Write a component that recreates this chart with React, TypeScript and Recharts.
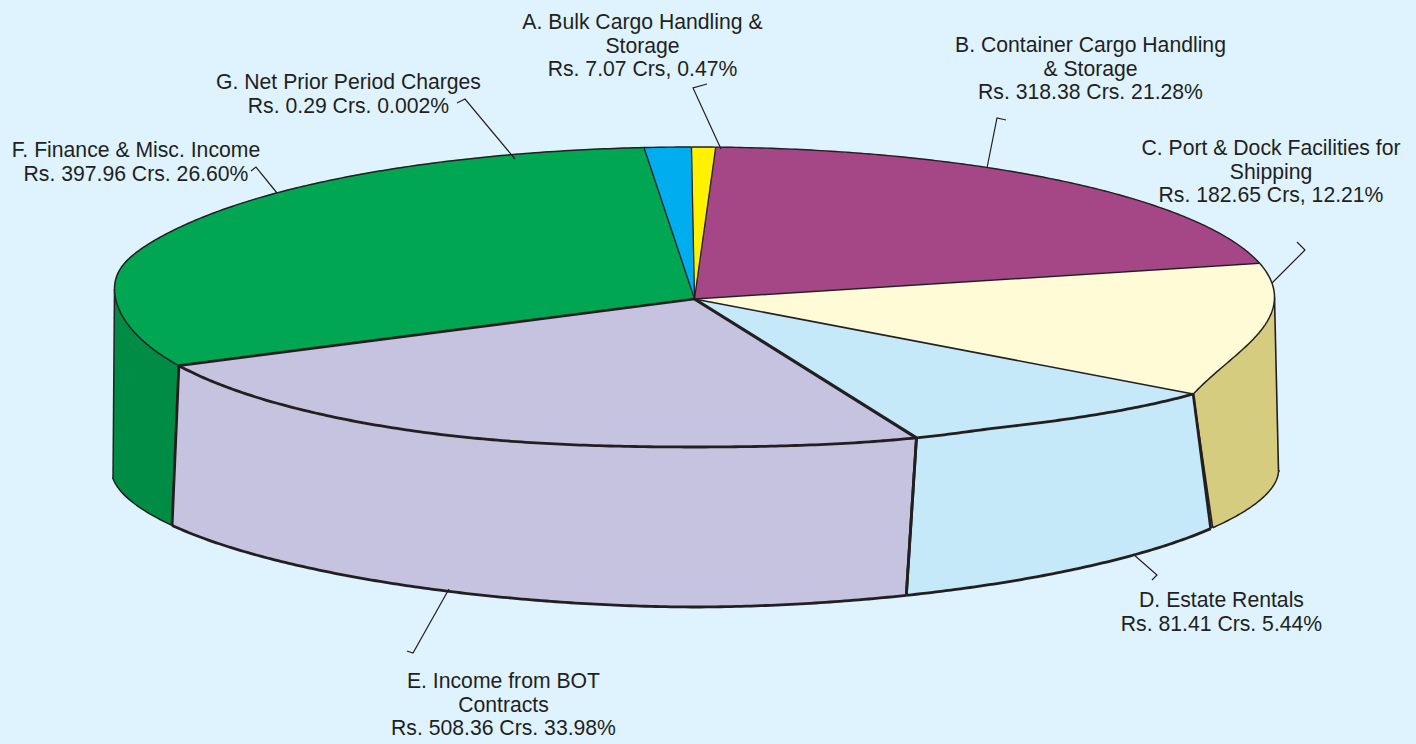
import React from "react";
import { PieChart, Pie } from "recharts";

// Slice names and the figures printed on the chart
const sliceNames = ["A", "B", "C", "D", "E", "F", "G"];
const labelTexts = [
  ["A. Bulk Cargo Handling &", "Storage", "Rs. 7.07 Crs, 0.47%"],
  ["B. Container Cargo Handling", "& Storage", "Rs. 318.38 Crs. 21.28%"],
  ["C. Port & Dock Facilities for", "Shipping", "Rs. 182.65 Crs, 12.21%"],
  ["D. Estate Rentals", "Rs. 81.41 Crs. 5.44%"],
  ["E. Income from BOT", "Contracts", "Rs. 508.36 Crs. 33.98%"],
  ["F. Finance & Misc. Income", "Rs. 397.96 Crs. 26.60%"],
  ["G. Net Prior Period Charges", "Rs. 0.29 Crs. 0.002%"],
];
// Sweep of each slice as drawn in the picture, in degrees of the ellipse
const drawnSweep = [2.4, 74.9, 43.7, 36.8, 85.25, 112.25, 4.7];

const pieData = sliceNames.map((name, i) => ({ name, sweep: drawnSweep[i] }));

// Styles
const BG = "#DEF3FD";
const INK = "#231F20";
const faceFill = ["#FFF200", "#A54686", "#FFFBD6", "#C6E9FA", "#C6C3E1", "#00A651", "#00AEEF"];
const wallFill = ["#FFF200", "#A54686", "#D6CC80", "#C6E9FA", "#C6C3E1", "#008C44", "#00AEEF"];
const arcWidth = [1.4, 1.4, 1.5, 2.8, 2.8, 1.5, 1.4];
const startEdgeWidth = [1.3, 1.3, 1.5, 1.6, 3.2, 2.6, 1.3];
const wallArcWidth = [1, 1, 1.5, 2.8, 2.8, 1.5, 1];
const wallEdgeWidth = [0, 0, 1.6, 2.8, 2.8, 1.5, 0];

// Geometry of the tilted disc
const CX = 694.5, CY = 297, RX = 580, RY = 150, HUB_Y = 299;
const BCX = 695, BCY = 471, BRX = 583.5, BRY = 136, BN = 1.85;
const wallLeanStart = [0, 0, 0, 14, -12, -4.2, 0];
const wallLeanEnd = [0, 0, 16, -12, -4.2, 1.5, 0];

const rad = (d: number) => (d * Math.PI) / 180;

function bump(th: number) {
  const d = th - 120.7;
  let out = 0;
  if (d <= 0) out += 20 * Math.exp(d / 6.5);
  else if (d < 30) out += 20 * Math.pow(1 - d / 30, 1.3);
  out += 3 * (1 - Math.exp(-(((th - 180) / 18) ** 2))) * Math.exp(-(((th - 185) / 55) ** 4));
  const l = th - 272;
  out -= 8 * Math.exp(-((l / (l < 0 ? 20 : 16)) ** 2));
  return out;
}
function topPoint(th: number): [number, number] {
  return [CX + RX * Math.sin(rad(th)), CY - RY * Math.cos(rad(th)) + bump(th)];
}
function bottomPoint(th: number, lean: number): [number, number] {
  const x = BCX + BRX * Math.sin(rad(th)) + lean;
  const dx = Math.min(1, Math.abs(x - BCX) / BRX);
  const y = BCY + BRY * Math.pow(1 - Math.pow(dx, BN), 1 / BN);
  return [x, y];
}
function arcPoints(a: number, b: number, f: (th: number, t: number) => [number, number]) {
  const n = Math.max(2, Math.ceil(Math.abs(b - a) * 2));
  const out: [number, number][] = [];
  for (let i = 0; i <= n; i++) out.push(f(a + ((b - a) * i) / n, i / n));
  return out;
}
const toPath = (pts: [number, number][]) =>
  pts.map((p, i) => `${i ? "L" : "M"}${p[0].toFixed(2)} ${p[1].toFixed(2)}`).join(" ");

type Layer = "wallFill" | "wallLine" | "faceFill" | "faceLine";

function makeShape(layer: Layer) {
  return function SliceShape(props: any) {
    const i = sliceNames.indexOf(props.name ?? props.payload?.name);
    const a = 90 - props.startAngle;
    const b = 90 - props.endAngle;
    if (layer === "faceFill" || layer === "faceLine") {
      const arc = arcPoints(a, b, (th) => topPoint(th));
      if (layer === "faceFill") {
        return <path d={`M${CX} ${HUB_Y} ${toPath(arc).replace("M", "L")} Z`} fill={faceFill[i]} stroke={faceFill[i]} strokeWidth={0.5} />;
      }
      return (
        <g fill="none" stroke={INK} strokeLinejoin="round">
          <path d={toPath(arc)} strokeWidth={arcWidth[i]} />
          <path d={`M${CX} ${HUB_Y} L${arc[0][0]} ${arc[0][1]}`} strokeWidth={startEdgeWidth[i]} />
        </g>
      );
    }
    const lo = Math.max(a, 90);
    const hi = Math.min(b, 270);
    if (hi <= lo) return null;
    const top = arcPoints(lo, hi, (th) => topPoint(th));
    const bottom = arcPoints(lo, hi, (th, t) =>
      bottomPoint(th, wallLeanStart[i] * (1 - t) + wallLeanEnd[i] * t)
    );
    if (layer === "wallFill") {
      const d = `${toPath(top)} ${toPath([...bottom].reverse()).replace("M", "L")} Z`;
      return <path d={d} fill={wallFill[i]} />;
    }
    const last = top.length - 1;
    return (
      <g fill="none" stroke={INK} strokeLinejoin="round">
        <path d={toPath(bottom)} strokeWidth={wallArcWidth[i]} />
        <path d={`M${top[0][0]} ${top[0][1]} L${bottom[0][0]} ${bottom[0][1]}`} strokeWidth={wallEdgeWidth[i]} />
        <path d={`M${top[last][0]} ${top[last][1]} L${bottom[last][0]} ${bottom[last][1]}`} strokeWidth={wallEdgeWidth[i]} />
      </g>
    );
  };
}

// Where each callout is set
const labelCenter = [642.5, 1090.5, 1271, 1221.5, 503.5, 136, 348.5];
const labelBaseline = [29, 52, 155, 607, 688, 157, 89];
const LINE_GAP = 23.7;
const leaders = [
  "M721 149 L693 88 L707 84",
  "M987 168 L997 118 L1006 120",
  "M1272 283 L1305 250 L1297 242",
  "M1133 554 L1157 575 L1152 580",
  "M449 589 L413 653 L407 651",
  "M277 193 L256 167 L251 171",
  "M515 159 L465 99 L457 103",
];

function renderLabel(props: any) {
  const i = sliceNames.indexOf(props.name ?? props.payload?.name);
  return (
    <text
      key={i}
      x={labelCenter[i]}
      y={labelBaseline[i]}
      textAnchor="middle"
      fontFamily="'Liberation Sans', Arial, sans-serif"
      fontSize={21.2}
      fill={INK}
    >
      {labelTexts[i].map((line, j) => (
        <tspan key={j} x={labelCenter[i]} y={labelBaseline[i] + j * LINE_GAP}>
          {line}
        </tspan>
      ))}
    </text>
  );
}
function renderLeader(props: any) {
  const i = sliceNames.indexOf(props.name ?? props.payload?.name);
  return <path key={i} d={leaders[i]} fill="none" stroke={INK} strokeWidth={1.2} />;
}

const layers: Layer[] = ["wallFill", "wallLine", "faceFill", "faceLine"];

export default function App() {
  return (
    <div style={{ position: "absolute", left: 0, top: 0, width: 1416, height: 744, background: BG, overflow: "hidden" }}>
      <PieChart width={1416} height={744} margin={{ top: 0, right: 0, bottom: 0, left: 0 }}>
        {layers.map((layer) => (
          <Pie
            key={layer}
            data={pieData}
            dataKey="sweep"
            nameKey="name"
            cx={CX}
            cy={CY}
            innerRadius={0}
            outerRadius={RX}
            startAngle={90.3}
            endAngle={-269.7}
            paddingAngle={0}
            stroke="none"
            isAnimationActive={false}
            shape={makeShape(layer)}
            label={layer === "faceLine" ? renderLabel : false}
            labelLine={layer === "faceLine" ? renderLeader : false}
          />
        ))}
      </PieChart>
    </div>
  );
}
